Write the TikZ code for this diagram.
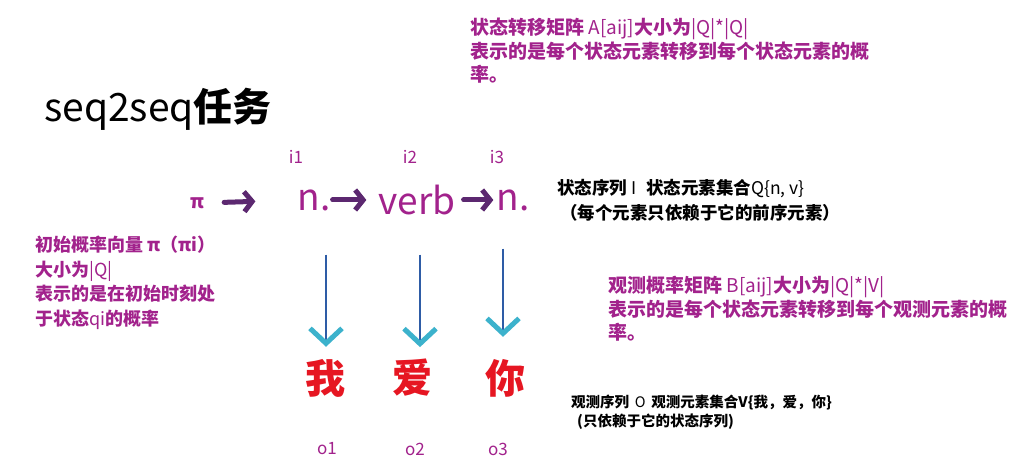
\documentclass[tikz,border=0pt]{standalone}
\usepackage{fontspec}
\setmainfont{Noto Sans CJK SC}
\usetikzlibrary{arrows.meta}
\definecolor{purp}{RGB}{162,34,140}
\definecolor{redc}{RGB}{230,22,34}
\definecolor{sketch}{RGB}{92,40,112}
\definecolor{bline}{RGB}{46,92,166}
\definecolor{cyanh}{RGB}{60,178,204}
\tikzset{
  purpblock/.style={anchor=north west, inner sep=0pt, align=left, text=purp, font=\bfseries\fontsize{19}{23.5}\selectfont},
  blackblock/.style={anchor=north west, inner sep=0pt, align=left, text=black, font=\bfseries\fontsize{17.5}{25}\selectfont},
  hand/.style={inner sep=0pt, text=purp, font=\fontsize{37}{38}\selectfont},
  idx/.style={inner sep=0pt, text=purp, font=\fontsize{17}{18}\selectfont},
  obs/.style={inner sep=0pt, text=redc, font=\bfseries\fontsize{40}{42}\selectfont},
  sketcharrow/.style={draw=sketch, line width=5pt, line cap=round, -{Straight Barb[length=8pt,width=20pt,line width=5pt]}},
  emitarrow/.style={draw=bline, line width=2.8pt, -{Straight Barb[length=15pt,width=32pt,line width=5pt,color=cyanh]}},
}
\begin{document}
\begin{tikzpicture}[x=1pt,y=-1pt]
\useasboundingbox[fill=white] (0,0) rectangle (1012,473);
% title
\node[anchor=west, inner sep=0pt, font=\fontsize{39}{40}\selectfont] (title) at (44,109) {seq2seq\textbf{任务}};
% top block
\node[purpblock] (trans) at (470,18) {状态转移矩阵 {\mdseries A[aij]}大小为{\mdseries |Q|*|Q|}\\表示的是每个状态元素转移到每个状态元素的概\\率。};
% state sequence
\node[inner sep=0pt, text=purp, font=\bfseries\fontsize{19}{20}\selectfont] (pi) at (197,203) {π};
\node[hand] (n1) at (314,200) {n.};
\node[hand] (verb) at (417,200) {verb};
\node[hand] (n3) at (513,200) {n.};
\node[idx] (i1) at (296,157) {i1};
\node[idx] (i2) at (410,157) {i2};
\node[idx] (i3) at (497,157) {i3};
\draw[sketcharrow, shorten <=20pt, shorten >=42pt] (pi.east) -- (n1.west);
\draw[sketcharrow, shorten <=2pt, shorten >=12pt] (n1.east) -- (verb.west);
\draw[sketcharrow, shorten <=8pt, shorten >=3pt] (verb.east) -- (n3.west);
% state text
\node[blackblock] (stxt) at (557,179) {状态序列 {\mdseries\itshape I}\,\, 状态元素集合{\mdseries Q\{n, v\}}\\\hspace{3pt}（每个元素只依赖于它的前序元素）};
% left block
\node[purpblock, font=\bfseries\fontsize{18}{24.5}\selectfont] (init) at (35,236) {初始概率向量 π（πi）\\大小为{\mdseries |Q|}\\表示的是在初始时刻处\\于状态{\mdseries qi}的概率};
% observations
\node[obs] (o1) at (325,378) {我};
\node[obs] (o2) at (412,378) {爱};
\node[obs] (o3) at (505,378) {你};
\draw[emitarrow] ([xshift=1pt]o1.north |- n1.south) ++(0,44) -- ([xshift=1pt,yshift=12pt]o1.north);
\draw[emitarrow] ([xshift=8pt]o2.north |- n1.south) ++(0,44) -- ([xshift=8pt,yshift=12pt]o2.north);
\draw[emitarrow] ([xshift=-2pt]o3.north |- n3.south) ++(0,38) -- ([xshift=-2pt,yshift=22pt]o3.north);
% right block
\node[purpblock] (emit) at (608,276) {观测概率矩阵 {\mdseries B[aij]}大小为{\mdseries |Q|*|V|}\\表示的是每个状态元素转移到每个观测元素的概\\率。};
% observation text
\node[anchor=north west, inner sep=0pt, align=left, font=\bfseries\fontsize{14.5}{19}\selectfont] (otxt) at (571,395) {观测序列 \,{\mdseries\itshape O}\, 观测元素集合V\{我，爱，你\}\\\hspace{6pt}(只依赖于它的状态序列)};
\node[idx] (l1) at (327,449) {o1};
\node[idx] (l2) at (415,449) {o2};
\node[idx] (l3) at (498,449) {o3};
\end{tikzpicture}
\end{document}
